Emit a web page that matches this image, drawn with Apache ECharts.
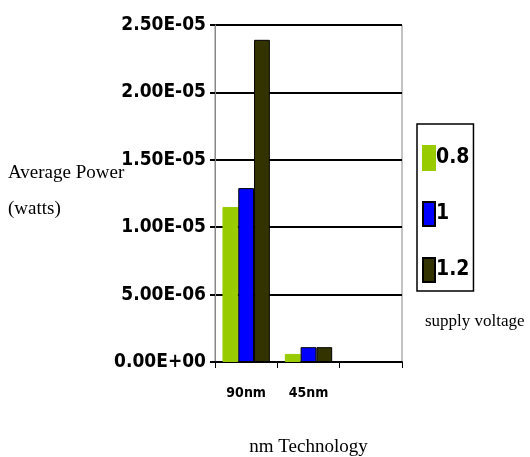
<!DOCTYPE html>
<html><head><meta charset="utf-8">
<script src="https://cdn.jsdelivr.net/npm/echarts@6/dist/echarts.min.js"></script>
<style>html,body{margin:0;padding:0;background:#fff}#c{width:530px;height:457px}</style>
</head><body><div id="c"></div>
<script>
var categories = ['90nm', '45nm', ''];
var seriesNames = ['0.8', '1', '1.2'];
var v08 = [1.15e-5, 6.0e-7, null];
var v10 = [1.29e-5, 1.1e-6, null];
var v12 = [2.39e-5, 1.1e-6, null];
var colors = ['#99cc00', '#0000ff', '#333300'];

function sci(v) {
  if (v === 0) return '0.00E+00';
  var e = Math.floor(Math.log10(Math.abs(v)) + 1e-9);
  var m = v / Math.pow(10, e);
  var es = (e < 0 ? '-' : '+') + (Math.abs(e) < 10 ? '0' : '') + Math.abs(e);
  return m.toFixed(2) + 'E' + es;
}

var boldFont = "'Liberation Sans Narrow', 'DejaVu Sans Condensed', 'Liberation Sans', sans-serif";
var serifFont = "'Liberation Serif', 'DejaVu Serif', serif";

var chart = echarts.init(document.getElementById('c'));
var values = [v08, v10, v12];
chart.setOption({
  animation: false,
  backgroundColor: '#fff',
  grid: { left: 215, right: 128, top: 25, bottom: 95, show: true, borderColor: '#888', borderWidth: 1, outerBoundsMode: 'none', containLabel: false },
  legend: {
    orient: 'vertical', left: 417, top: 124,
    data: seriesNames,
    itemWidth: 12, itemHeight: 24, itemGap: 30,
    padding: [21, 4, 8, 5],
    borderColor: '#000', borderWidth: 1.5,
    textStyle: { fontFamily: boldFont, fontWeight: 'bold', fontSize: 21, color: '#000', padding: [0, 0, 0, -4] },
    icon: 'rect'
  },
  xAxis: {
    type: 'category', data: categories,
    axisLine: { lineStyle: { color: '#000', width: 2 } },
    axisTick: { show: true, length: 6, lineStyle: { color: '#000' } },
    axisLabel: { fontFamily: boldFont, fontWeight: 'bold', fontSize: 14, color: '#000', margin: 24 },
    name: 'nm Technology', nameLocation: 'middle', nameGap: 76,
    nameTextStyle: { fontFamily: serifFont, fontSize: 19, color: '#000' }
  },
  yAxis: {
    type: 'value', min: 0, max: 2.5e-5, interval: 5e-6,
    axisLine: { show: true, lineStyle: { color: '#888', width: 1 } },
    axisTick: { show: true, length: 5, lineStyle: { color: '#000', width: 2 } },
    splitLine: { lineStyle: { color: '#000', width: 2 } },
    axisLabel: { formatter: sci, fontFamily: boldFont, fontWeight: 'bold', fontSize: 19, color: '#000', margin: 9 }
  },
  graphic: [
    { type: 'text', left: 8, top: 155, style: { text: 'Average Power\n(watts)', font: '19px ' + serifFont, fill: '#000', lineHeight: 36 } },
    { type: 'text', left: 425, top: 313, style: { text: 'supply voltage', font: '17px ' + serifFont, fill: '#000' } }
  ],
  series: seriesNames.map(function (n, i) {
    return {
      name: n, type: 'bar', data: values[i],
      barGap: '0%', barCategoryGap: '24%',
      itemStyle: { color: colors[i], borderColor: i === 0 ? '#99cc00' : '#000', borderWidth: 1 }
    };
  })
});
</script></body></html>
